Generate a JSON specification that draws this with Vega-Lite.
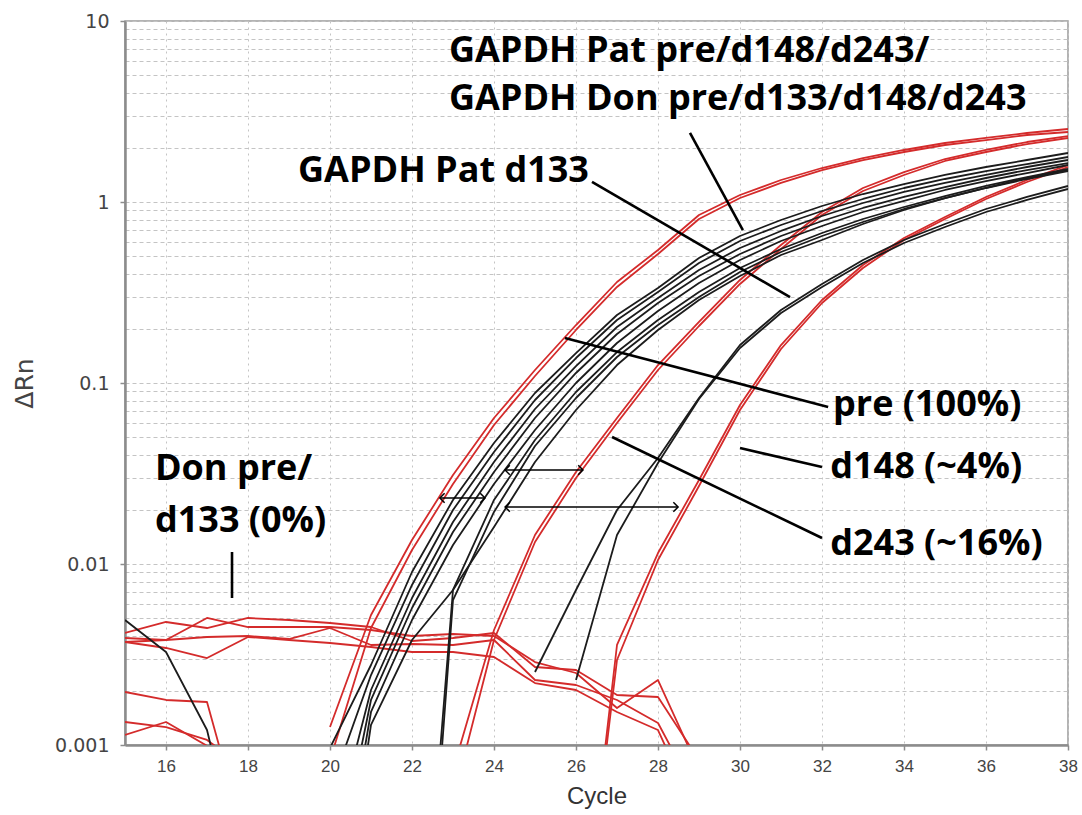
{
  "$schema": "https://vega.github.io/schema/vega-lite/v6.json",
  "width": 943,
  "height": 724,
  "autosize": {"type": "none"},
  "padding": {"left": 125, "top": 21, "right": 14, "bottom": 70},
  "background": "white",
  "config": {
    "view": {"stroke": "#9a9a9a", "strokeWidth": 1.5},
    "axisX": {"labelFont": "Liberation Sans", "labelFontSize": 17, "labelColor": "#444444", "labelPadding": 8, "labelFlush": false, "labelOverlap": false,
      "titleFont": "Liberation Sans", "titleFontSize": 24, "titleFontWeight": "normal", "titleColor": "#333333", "titlePadding": 10,
      "domainColor": "#8c8c8c", "domainWidth": 2.5, "tickColor": "#8c8c8c", "tickSize": 5, "tickWidth": 1.5,
      "gridDash": [2,4], "gridColor": "#c4c4c4", "gridWidth": 1},
    "axisY": {"labelFont": "DejaVu Sans", "labelFontSize": 19, "labelColor": "#444444", "labelPadding": 11, "labelFlush": false, "labelOverlap": false,
      "titleFont": "DejaVu Sans", "titleFontSize": 25, "titleFontWeight": "normal", "titleColor": "#444444", "titlePadding": 17,
      "domainColor": "#8c8c8c", "domainWidth": 2.5, "tickColor": "#8c8c8c", "tickSize": 5, "tickWidth": 1.5,
      "gridDash": [4,3], "gridColor": "#c4c4c4", "gridWidth": 1}
  },
  "datasets": {
    "curves": [
      {"s":"pre1","kind":"allele","c":20,"v":0.001257},{"s":"pre1","kind":"allele","c":21,"v":0.005226},{"s":"pre1","kind":"allele","c":22,"v":0.01357},{"s":"pre1","kind":"allele","c":23,"v":0.03102},{"s":"pre1","kind":"allele","c":24,"v":0.06406},{"s":"pre1","kind":"allele","c":25,"v":0.118},{"s":"pre1","kind":"allele","c":26,"v":0.2091},{"s":"pre1","kind":"allele","c":27,"v":0.3614},{"s":"pre1","kind":"allele","c":28,"v":0.5429},{"s":"pre1","kind":"allele","c":29,"v":0.8478},{"s":"pre1","kind":"allele","c":30,"v":1.093},{"s":"pre1","kind":"allele","c":31,"v":1.323},{"s":"pre1","kind":"allele","c":32,"v":1.541},{"s":"pre1","kind":"allele","c":33,"v":1.75},{"s":"pre1","kind":"allele","c":34,"v":1.938},{"s":"pre1","kind":"allele","c":35,"v":2.118},{"s":"pre1","kind":"allele","c":36,"v":2.258},{"s":"pre1","kind":"allele","c":37,"v":2.406},{"s":"pre1","kind":"allele","c":38,"v":2.532},
      {"s":"pre2","kind":"allele","c":20,"v":0.000826},{"s":"pre2","kind":"allele","c":21,"v":0.00443},{"s":"pre2","kind":"allele","c":22,"v":0.01195},{"s":"pre2","kind":"allele","c":23,"v":0.02767},{"s":"pre2","kind":"allele","c":24,"v":0.05861},{"s":"pre2","kind":"allele","c":25,"v":0.1093},{"s":"pre2","kind":"allele","c":26,"v":0.1963},{"s":"pre2","kind":"allele","c":27,"v":0.3392},{"s":"pre2","kind":"allele","c":28,"v":0.5161},{"s":"pre2","kind":"allele","c":29,"v":0.8055},{"s":"pre2","kind":"allele","c":30,"v":1.052},{"s":"pre2","kind":"allele","c":31,"v":1.274},{"s":"pre2","kind":"allele","c":32,"v":1.502},{"s":"pre2","kind":"allele","c":33,"v":1.706},{"s":"pre2","kind":"allele","c":34,"v":1.889},{"s":"pre2","kind":"allele","c":35,"v":2.065},{"s":"pre2","kind":"allele","c":36,"v":2.2},{"s":"pre2","kind":"allele","c":37,"v":2.345},{"s":"pre2","kind":"allele","c":38,"v":2.436},
      {"s":"d243a","kind":"allele","c":23,"v":0.000728},{"s":"d243a","kind":"allele","c":24,"v":0.004319},{"s":"d243a","kind":"allele","c":25,"v":0.01446},{"s":"d243a","kind":"allele","c":26,"v":0.03223},{"s":"d243a","kind":"allele","c":27,"v":0.06406},{"s":"d243a","kind":"allele","c":28,"v":0.1257},{"s":"d243a","kind":"allele","c":29,"v":0.2173},{"s":"d243a","kind":"allele","c":30,"v":0.3708},{"s":"d243a","kind":"allele","c":31,"v":0.5786},{"s":"d243a","kind":"allele","c":32,"v":0.8806},{"s":"d243a","kind":"allele","c":33,"v":1.195},{"s":"d243a","kind":"allele","c":34,"v":1.464},{"s":"d243a","kind":"allele","c":35,"v":1.728},{"s":"d243a","kind":"allele","c":36,"v":1.938},{"s":"d243a","kind":"allele","c":37,"v":2.145},{"s":"d243a","kind":"allele","c":38,"v":2.315},
      {"s":"d243b","kind":"allele","c":23,"v":0.000497},{"s":"d243b","kind":"allele","c":24,"v":0.003803},{"s":"d243b","kind":"allele","c":25,"v":0.01323},{"s":"d243b","kind":"allele","c":26,"v":0.02986},{"s":"d243b","kind":"allele","c":27,"v":0.06012},{"s":"d243b","kind":"allele","c":28,"v":0.118},{"s":"d243b","kind":"allele","c":29,"v":0.2065},{"s":"d243b","kind":"allele","c":30,"v":0.3524},{"s":"d243b","kind":"allele","c":31,"v":0.5499},{"s":"d243b","kind":"allele","c":32,"v":0.8478},{"s":"d243b","kind":"allele","c":33,"v":1.15},{"s":"d243b","kind":"allele","c":34,"v":1.41},{"s":"d243b","kind":"allele","c":35,"v":1.685},{"s":"d243b","kind":"allele","c":36,"v":1.889},{"s":"d243b","kind":"allele","c":37,"v":2.091},{"s":"d243b","kind":"allele","c":38,"v":2.258},
      {"s":"d148a","kind":"allele","c":26,"v":0.000039},{"s":"d148a","kind":"allele","c":27,"v":0.003569},{"s":"d148a","kind":"allele","c":28,"v":0.0115},{"s":"d148a","kind":"allele","c":29,"v":0.02911},{"s":"d148a","kind":"allele","c":30,"v":0.07558},{"s":"d148a","kind":"allele","c":31,"v":0.1621},{"s":"d148a","kind":"allele","c":32,"v":0.2874},{"s":"d148a","kind":"allele","c":33,"v":0.4486},{"s":"d148a","kind":"allele","c":34,"v":0.6325},{"s":"d148a","kind":"allele","c":35,"v":0.8262},{"s":"d148a","kind":"allele","c":36,"v":1.066},{"s":"d148a","kind":"allele","c":37,"v":1.323},{"s":"d148a","kind":"allele","c":38,"v":1.601},
      {"s":"d148b","kind":"allele","c":26,"v":0.000039},{"s":"d148b","kind":"allele","c":27,"v":0.002948},{"s":"d148b","kind":"allele","c":28,"v":0.01052},{"s":"d148b","kind":"allele","c":29,"v":0.02697},{"s":"d148b","kind":"allele","c":30,"v":0.07093},{"s":"d148b","kind":"allele","c":31,"v":0.1541},{"s":"d148b","kind":"allele","c":32,"v":0.2767},{"s":"d148b","kind":"allele","c":33,"v":0.4319},{"s":"d148b","kind":"allele","c":34,"v":0.6168},{"s":"d148b","kind":"allele","c":35,"v":0.8055},{"s":"d148b","kind":"allele","c":36,"v":1.039},{"s":"d148b","kind":"allele","c":37,"v":1.29},{"s":"d148b","kind":"allele","c":38,"v":1.561},
      {"s":"n1","kind":"allele","c":15,"v":0.004157},{"s":"n1","kind":"allele","c":16,"v":0.004782},{"s":"n1","kind":"allele","c":17,"v":0.00443},{"s":"n1","kind":"allele","c":18,"v":0.005032},{"s":"n1","kind":"allele","c":19,"v":0.004905},{"s":"n1","kind":"allele","c":20,"v":0.004721},{"s":"n1","kind":"allele","c":21,"v":0.004486},{"s":"n1","kind":"allele","c":22,"v":0.003754},{"s":"n1","kind":"allele","c":23,"v":0.003901},{"s":"n1","kind":"allele","c":24,"v":0.004157},{"s":"n1","kind":"allele","c":25,"v":0.002697},{"s":"n1","kind":"allele","c":26,"v":0.002597},{"s":"n1","kind":"allele","c":27,"v":0.001889},{"s":"n1","kind":"allele","c":28,"v":0.001842},{"s":"n1","kind":"allele","c":29,"v":0.000826},
      {"s":"n2","kind":"allele","c":15,"v":0.003901},{"s":"n2","kind":"allele","c":16,"v":0.003803},{"s":"n2","kind":"allele","c":17,"v":0.005032},{"s":"n2","kind":"allele","c":18,"v":0.004486},{"s":"n2","kind":"allele","c":19,"v":0.004486},{"s":"n2","kind":"allele","c":20,"v":0.004486},{"s":"n2","kind":"allele","c":21,"v":0.004319},{"s":"n2","kind":"allele","c":22,"v":0.004002},{"s":"n2","kind":"allele","c":23,"v":0.004105},{"s":"n2","kind":"allele","c":24,"v":0.004002},{"s":"n2","kind":"allele","c":25,"v":0.002874},{"s":"n2","kind":"allele","c":26,"v":0.002499},{"s":"n2","kind":"allele","c":27,"v":0.001601},{"s":"n2","kind":"allele","c":28,"v":0.002286},{"s":"n2","kind":"allele","c":29,"v":0.000728},
      {"s":"n3","kind":"allele","c":15,"v":0.003708},{"s":"n3","kind":"allele","c":16,"v":0.003803},{"s":"n3","kind":"allele","c":17,"v":0.003951},{"s":"n3","kind":"allele","c":18,"v":0.004002},{"s":"n3","kind":"allele","c":19,"v":0.003851},{"s":"n3","kind":"allele","c":20,"v":0.00443},{"s":"n3","kind":"allele","c":21,"v":0.003569},{"s":"n3","kind":"allele","c":22,"v":0.003614},{"s":"n3","kind":"allele","c":23,"v":0.003569},{"s":"n3","kind":"allele","c":24,"v":0.003803},{"s":"n3","kind":"allele","c":25,"v":0.002286},{"s":"n3","kind":"allele","c":26,"v":0.002145},{"s":"n3","kind":"allele","c":27,"v":0.001773},{"s":"n3","kind":"allele","c":28,"v":0.001323},{"s":"n3","kind":"allele","c":29,"v":0.000497},
      {"s":"n4","kind":"allele","c":15,"v":0.003708},{"s":"n4","kind":"allele","c":16,"v":0.003435},{"s":"n4","kind":"allele","c":17,"v":0.003024},{"s":"n4","kind":"allele","c":18,"v":0.003951},{"s":"n4","kind":"allele","c":19,"v":0.003803},{"s":"n4","kind":"allele","c":20,"v":0.00366},{"s":"n4","kind":"allele","c":21,"v":0.003479},{"s":"n4","kind":"allele","c":22,"v":0.003265},{"s":"n4","kind":"allele","c":23,"v":0.003265},{"s":"n4","kind":"allele","c":24,"v":0.003063},{"s":"n4","kind":"allele","c":25,"v":0.0022},{"s":"n4","kind":"allele","c":26,"v":0.002013},{"s":"n4","kind":"allele","c":27,"v":0.001522},{"s":"n4","kind":"allele","c":28,"v":0.00121},{"s":"n4","kind":"allele","c":29,"v":0.000385},
      {"s":"l1","kind":"allele","c":15,"v":0.001963},{"s":"l1","kind":"allele","c":16,"v":0.001773},{"s":"l1","kind":"allele","c":17,"v":0.001728},{"s":"l1","kind":"allele","c":18,"v":0.000263},
      {"s":"l2","kind":"allele","c":15,"v":0.00134},{"s":"l2","kind":"allele","c":16,"v":0.001257},{"s":"l2","kind":"allele","c":17,"v":0.001066},{"s":"l2","kind":"allele","c":18,"v":0.000728},
      {"s":"l3","kind":"allele","c":15,"v":0.001136},{"s":"l3","kind":"allele","c":16,"v":0.00134},{"s":"l3","kind":"allele","c":17,"v":0.00099},{"s":"l3","kind":"allele","c":18,"v":0.000497},
      {"s":"k1","kind":"GAPDH","c":20,"v":0.000963},{"s":"k1","kind":"GAPDH","c":21,"v":0.002767},{"s":"k1","kind":"GAPDH","c":22,"v":0.009032},{"s":"k1","kind":"GAPDH","c":23,"v":0.02258},{"s":"k1","kind":"GAPDH","c":24,"v":0.04661},{"s":"k1","kind":"GAPDH","c":25,"v":0.08806},{"s":"k1","kind":"GAPDH","c":26,"v":0.1464},{"s":"k1","kind":"GAPDH","c":27,"v":0.2375},{"s":"k1","kind":"GAPDH","c":28,"v":0.3349},{"s":"k1","kind":"GAPDH","c":29,"v":0.4905},{"s":"k1","kind":"GAPDH","c":30,"v":0.6489},{"s":"k1","kind":"GAPDH","c":31,"v":0.7955},{"s":"k1","kind":"GAPDH","c":32,"v":0.9504},{"s":"k1","kind":"GAPDH","c":33,"v":1.107},{"s":"k1","kind":"GAPDH","c":34,"v":1.257},{"s":"k1","kind":"GAPDH","c":35,"v":1.41},{"s":"k1","kind":"GAPDH","c":36,"v":1.561},{"s":"k1","kind":"GAPDH","c":37,"v":1.706},{"s":"k1","kind":"GAPDH","c":38,"v":1.865},
      {"s":"k2","kind":"GAPDH","c":20,"v":0.000564},{"s":"k2","kind":"GAPDH","c":21,"v":0.002436},{"s":"k2","kind":"GAPDH","c":22,"v":0.007656},{"s":"k2","kind":"GAPDH","c":23,"v":0.01987},{"s":"k2","kind":"GAPDH","c":24,"v":0.04157},{"s":"k2","kind":"GAPDH","c":25,"v":0.08055},{"s":"k2","kind":"GAPDH","c":26,"v":0.1374},{"s":"k2","kind":"GAPDH","c":27,"v":0.2229},{"s":"k2","kind":"GAPDH","c":28,"v":0.3183},{"s":"k2","kind":"GAPDH","c":29,"v":0.4603},{"s":"k2","kind":"GAPDH","c":30,"v":0.6089},{"s":"k2","kind":"GAPDH","c":31,"v":0.7463},{"s":"k2","kind":"GAPDH","c":32,"v":0.8918},{"s":"k2","kind":"GAPDH","c":33,"v":1.039},{"s":"k2","kind":"GAPDH","c":34,"v":1.195},{"s":"k2","kind":"GAPDH","c":35,"v":1.34},{"s":"k2","kind":"GAPDH","c":36,"v":1.483},{"s":"k2","kind":"GAPDH","c":37,"v":1.621},{"s":"k2","kind":"GAPDH","c":38,"v":1.773},
      {"s":"k3","kind":"GAPDH","c":20,"v":0.000263},{"s":"k3","kind":"GAPDH","c":21,"v":0.002013},{"s":"k3","kind":"GAPDH","c":22,"v":0.006489},{"s":"k3","kind":"GAPDH","c":23,"v":0.01706},{"s":"k3","kind":"GAPDH","c":24,"v":0.0366},{"s":"k3","kind":"GAPDH","c":25,"v":0.07184},{"s":"k3","kind":"GAPDH","c":26,"v":0.1241},{"s":"k3","kind":"GAPDH","c":27,"v":0.2039},{"s":"k3","kind":"GAPDH","c":28,"v":0.2948},{"s":"k3","kind":"GAPDH","c":29,"v":0.421},{"s":"k3","kind":"GAPDH","c":30,"v":0.557},{"s":"k3","kind":"GAPDH","c":31,"v":0.6918},{"s":"k3","kind":"GAPDH","c":32,"v":0.8369},{"s":"k3","kind":"GAPDH","c":33,"v":0.9874},{"s":"k3","kind":"GAPDH","c":34,"v":1.136},{"s":"k3","kind":"GAPDH","c":35,"v":1.274},{"s":"k3","kind":"GAPDH","c":36,"v":1.41},{"s":"k3","kind":"GAPDH","c":37,"v":1.561},{"s":"k3","kind":"GAPDH","c":38,"v":1.706},
      {"s":"k4","kind":"GAPDH","c":20,"v":0.000139},{"s":"k4","kind":"GAPDH","c":21,"v":0.001773},{"s":"k4","kind":"GAPDH","c":22,"v":0.005714},{"s":"k4","kind":"GAPDH","c":23,"v":0.01502},{"s":"k4","kind":"GAPDH","c":24,"v":0.03223},{"s":"k4","kind":"GAPDH","c":25,"v":0.06406},{"s":"k4","kind":"GAPDH","c":26,"v":0.1136},{"s":"k4","kind":"GAPDH","c":27,"v":0.1865},{"s":"k4","kind":"GAPDH","c":28,"v":0.2767},{"s":"k4","kind":"GAPDH","c":29,"v":0.3901},{"s":"k4","kind":"GAPDH","c":30,"v":0.5161},{"s":"k4","kind":"GAPDH","c":31,"v":0.6489},{"s":"k4","kind":"GAPDH","c":32,"v":0.7852},{"s":"k4","kind":"GAPDH","c":33,"v":0.9266},{"s":"k4","kind":"GAPDH","c":34,"v":1.066},{"s":"k4","kind":"GAPDH","c":35,"v":1.21},{"s":"k4","kind":"GAPDH","c":36,"v":1.357},{"s":"k4","kind":"GAPDH","c":37,"v":1.502},{"s":"k4","kind":"GAPDH","c":38,"v":1.642},
      {"s":"k5","kind":"GAPDH","c":20,"v":0.0000737},{"s":"k5","kind":"GAPDH","c":21,"v":0.001522},{"s":"k5","kind":"GAPDH","c":22,"v":0.004905},{"s":"k5","kind":"GAPDH","c":23,"v":0.01274},{"s":"k5","kind":"GAPDH","c":24,"v":0.02767},{"s":"k5","kind":"GAPDH","c":25,"v":0.05499},{"s":"k5","kind":"GAPDH","c":26,"v":0.1},{"s":"k5","kind":"GAPDH","c":27,"v":0.1663},{"s":"k5","kind":"GAPDH","c":28,"v":0.2499},{"s":"k5","kind":"GAPDH","c":29,"v":0.3569},{"s":"k5","kind":"GAPDH","c":30,"v":0.4782},{"s":"k5","kind":"GAPDH","c":31,"v":0.6089},{"s":"k5","kind":"GAPDH","c":32,"v":0.7369},{"s":"k5","kind":"GAPDH","c":33,"v":0.8806},{"s":"k5","kind":"GAPDH","c":34,"v":1.013},{"s":"k5","kind":"GAPDH","c":35,"v":1.165},{"s":"k5","kind":"GAPDH","c":36,"v":1.306},{"s":"k5","kind":"GAPDH","c":37,"v":1.446},{"s":"k5","kind":"GAPDH","c":38,"v":1.601},
      {"s":"k6","kind":"GAPDH","c":20,"v":0.000039},{"s":"k6","kind":"GAPDH","c":21,"v":0.00129},{"s":"k6","kind":"GAPDH","c":22,"v":0.003803},{"s":"k6","kind":"GAPDH","c":23,"v":0.007184},{"s":"k6","kind":"GAPDH","c":24,"v":0.01601},{"s":"k6","kind":"GAPDH","c":25,"v":0.0366},{"s":"k6","kind":"GAPDH","c":26,"v":0.07093},{"s":"k6","kind":"GAPDH","c":27,"v":0.1257},{"s":"k6","kind":"GAPDH","c":28,"v":0.1963},{"s":"k6","kind":"GAPDH","c":29,"v":0.2874},{"s":"k6","kind":"GAPDH","c":30,"v":0.3901},{"s":"k6","kind":"GAPDH","c":31,"v":0.5095},{"s":"k6","kind":"GAPDH","c":32,"v":0.6168},{"s":"k6","kind":"GAPDH","c":33,"v":0.7558},{"s":"k6","kind":"GAPDH","c":34,"v":0.9032},{"s":"k6","kind":"GAPDH","c":35,"v":1.052},{"s":"k6","kind":"GAPDH","c":36,"v":1.195},{"s":"k6","kind":"GAPDH","c":37,"v":1.357},{"s":"k6","kind":"GAPDH","c":38,"v":1.502},
      {"s":"k7","kind":"GAPDH","c":22,"v":0.0000109},{"s":"k7","kind":"GAPDH","c":23,"v":0.007184},{"s":"k7","kind":"GAPDH","c":24,"v":0.02258},{"s":"k7","kind":"GAPDH","c":25,"v":0.04843},{"s":"k7","kind":"GAPDH","c":26,"v":0.08918},{"s":"k7","kind":"GAPDH","c":27,"v":0.1483},{"s":"k7","kind":"GAPDH","c":28,"v":0.2229},{"s":"k7","kind":"GAPDH","c":29,"v":0.3183},{"s":"k7","kind":"GAPDH","c":30,"v":0.4319},{"s":"k7","kind":"GAPDH","c":31,"v":0.5499},{"s":"k7","kind":"GAPDH","c":32,"v":0.6742},{"s":"k7","kind":"GAPDH","c":33,"v":0.8055},{"s":"k7","kind":"GAPDH","c":34,"v":0.9384},{"s":"k7","kind":"GAPDH","c":35,"v":1.079},{"s":"k7","kind":"GAPDH","c":36,"v":1.226},{"s":"k7","kind":"GAPDH","c":37,"v":1.374},{"s":"k7","kind":"GAPDH","c":38,"v":1.522},
      {"s":"k8","kind":"GAPDH","c":22,"v":0.00000579},{"s":"k8","kind":"GAPDH","c":23,"v":0.006325},{"s":"k8","kind":"GAPDH","c":24,"v":0.01938},{"s":"k8","kind":"GAPDH","c":25,"v":0.04486},{"s":"k8","kind":"GAPDH","c":26,"v":0.08262},{"s":"k8","kind":"GAPDH","c":27,"v":0.1392},{"s":"k8","kind":"GAPDH","c":28,"v":0.2091},{"s":"k8","kind":"GAPDH","c":29,"v":0.2986},{"s":"k8","kind":"GAPDH","c":30,"v":0.4105},{"s":"k8","kind":"GAPDH","c":31,"v":0.5294},{"s":"k8","kind":"GAPDH","c":32,"v":0.6489},{"s":"k8","kind":"GAPDH","c":33,"v":0.7752},{"s":"k8","kind":"GAPDH","c":34,"v":0.9149},{"s":"k8","kind":"GAPDH","c":35,"v":1.052},{"s":"k8","kind":"GAPDH","c":36,"v":1.195},{"s":"k8","kind":"GAPDH","c":37,"v":1.34},{"s":"k8","kind":"GAPDH","c":38,"v":1.483},
      {"s":"d1","kind":"GAPDH","c":25,"v":0.002532},{"s":"d1","kind":"GAPDH","c":26,"v":0.007184},{"s":"d1","kind":"GAPDH","c":27,"v":0.01987},{"s":"d1","kind":"GAPDH","c":28,"v":0.03851},{"s":"d1","kind":"GAPDH","c":29,"v":0.08262},{"s":"d1","kind":"GAPDH","c":30,"v":0.1621},{"s":"d1","kind":"GAPDH","c":31,"v":0.2532},{"s":"d1","kind":"GAPDH","c":32,"v":0.3524},{"s":"d1","kind":"GAPDH","c":33,"v":0.4782},{"s":"d1","kind":"GAPDH","c":34,"v":0.6168},{"s":"d1","kind":"GAPDH","c":35,"v":0.7558},{"s":"d1","kind":"GAPDH","c":36,"v":0.9149},{"s":"d1","kind":"GAPDH","c":37,"v":1.066},{"s":"d1","kind":"GAPDH","c":38,"v":1.226},
      {"s":"d2","kind":"GAPDH","c":26,"v":0.002286},{"s":"d2","kind":"GAPDH","c":27,"v":0.01446},{"s":"d2","kind":"GAPDH","c":28,"v":0.03614},{"s":"d2","kind":"GAPDH","c":29,"v":0.08158},{"s":"d2","kind":"GAPDH","c":30,"v":0.1561},{"s":"d2","kind":"GAPDH","c":31,"v":0.2436},{"s":"d2","kind":"GAPDH","c":32,"v":0.3392},{"s":"d2","kind":"GAPDH","c":33,"v":0.4603},{"s":"d2","kind":"GAPDH","c":34,"v":0.5936},{"s":"d2","kind":"GAPDH","c":35,"v":0.7277},{"s":"d2","kind":"GAPDH","c":36,"v":0.8806},{"s":"d2","kind":"GAPDH","c":37,"v":1.026},{"s":"d2","kind":"GAPDH","c":38,"v":1.18},
      {"s":"bl","kind":"GAPDH","c":15,"v":0.004905},{"s":"bl","kind":"GAPDH","c":16,"v":0.003265},{"s":"bl","kind":"GAPDH","c":17,"v":0.00121},{"s":"bl","kind":"GAPDH","c":18,"v":0.000139}
    ],
    "leaders": [
      {"x1":28.78,"y1":2.406,"x2":30.07,"y2":0.7003},
      {"x1":26.39,"y1":1.29,"x2":31.22,"y2":0.2986},
      {"x1":25.73,"y1":0.1773,"x2":32.15,"y2":0.07368},
      {"x1":30.0,"y1":0.04375,"x2":32.0,"y2":0.03435},
      {"x1":26.88,"y1":0.05032,"x2":32.0,"y2":0.01392},
      {"x1":17.61,"y1":0.01165,"x2":17.61,"y2":0.006489}
    ],
    "arrows": [
      {"x1":22.68,"x2":23.78,"y":0.02315},
      {"x1":24.27,"x2":26.17,"y":0.03306},
      {"x1":24.27,"x2":28.49,"y":0.02065}
    ],
    "labels": [
      {"label":"GAPDH Pat pre/d148/d243/","c":22.9,"v":5.936},
      {"label":"GAPDH Don pre/d133/d148/d243","c":22.9,"v":3.223},
      {"label":"GAPDH Pat d133","c":19.22,"v":1.29},
      {"label":"pre (100%)","c":32.27,"v":0.06572},
      {"label":"d148 (~4%)","c":32.2,"v":0.02986},
      {"label":"d243 (~16%)","c":32.2,"v":0.01121},
      {"label":"Don pre/","c":15.73,"v":0.02911},
      {"label":"d133 (0%)","c":15.73,"v":0.01502}
    ]
  },
  "layer": [
    {
      "data": {"name": "curves"},
      "mark": {"type": "line", "clip": true, "strokeWidth": 1.8, "strokeJoin": "round"},
      "encoding": {
        "x": {"field": "c", "type": "quantitative", "title": "Cycle",
          "scale": {"domain": [15, 38], "nice": false, "zero": false},
          "axis": {"values": [16,18,20,22,24,26,28,30,32,34,36,38], "format": "d", "grid": true,
            "labelFont": "Liberation Sans", "labelFontSize": 17, "titleFont": "Liberation Sans", "titleFontSize": 24}},
        "y": {"field": "v", "type": "quantitative", "title": "ΔRn",
          "scale": {"type": "log", "domain": [0.001, 10], "nice": false},
          "axis": {"values": [0.001,0.002,0.003,0.004,0.005,0.006,0.007,0.008,0.009,0.01,0.02,0.03,0.04,0.05,0.06,0.07,0.08,0.09,0.1,0.2,0.3,0.4,0.5,0.6,0.7,0.8,0.9,1,2,3,4,5,6,7,8,9,10],
            "labelExpr": "(datum.value === 0.001 || datum.value === 0.01 || datum.value === 0.1 || datum.value === 1 || datum.value === 10) ? format(datum.value, '~g') : ''",
            "labelFontSize": 19, "labelFont": "DejaVu Sans", "labelPadding": 11, "titleFont": "DejaVu Sans", "titleFontSize": 25, "titlePadding": 17,
            "grid": true,
            "tickOpacity": {"condition": {"test": "datum.value === 0.001 || datum.value === 0.01 || datum.value === 0.1 || datum.value === 1 || datum.value === 10", "value": 1}, "value": 0}}},
        "color": {"field": "kind", "type": "nominal", "scale": {"domain": ["allele", "GAPDH"], "range": ["#d42b2b", "#1c1c1c"]}, "legend": null},
        "detail": {"field": "s"}
      }
    },
    {
      "data": {"name": "leaders"},
      "mark": {"type": "rule", "strokeWidth": 2.6, "color": "#000000"},
      "encoding": {
        "x": {"field": "x1", "type": "quantitative", "title": "Cycle"},
        "y": {"field": "y1", "type": "quantitative", "title": "ΔRn"},
        "x2": {"field": "x2"},
        "y2": {"field": "y2"}
      }
    },
    {
      "data": {"name": "arrows"},
      "mark": {"type": "rule", "strokeWidth": 1.5, "color": "#000000"},
      "encoding": {
        "x": {"field": "x1", "type": "quantitative", "title": "Cycle"},
        "x2": {"field": "x2"},
        "y": {"field": "y", "type": "quantitative", "title": "ΔRn"}
      }
    },
    {
      "data": {"name": "arrows"},
      "mark": {"type": "point", "shape": "M1,-1L0,0L1,1", "filled": false, "stroke": "#000000", "strokeWidth": 1.5, "size": 90, "opacity": 1},
      "encoding": {
        "x": {"field": "x1", "type": "quantitative", "title": "Cycle"},
        "y": {"field": "y", "type": "quantitative", "title": "ΔRn"}
      }
    },
    {
      "data": {"name": "arrows"},
      "mark": {"type": "point", "shape": "M-1,-1L0,0L-1,1", "filled": false, "stroke": "#000000", "strokeWidth": 1.5, "size": 90, "opacity": 1},
      "encoding": {
        "x": {"field": "x2", "type": "quantitative", "title": "Cycle"},
        "y": {"field": "y", "type": "quantitative", "title": "ΔRn"}
      }
    },
    {
      "data": {"name": "labels"},
      "mark": {"type": "text", "font": "Open Sans", "fontWeight": "bold", "fontSize": 36, "align": "left", "baseline": "alphabetic", "color": "#000000"},
      "encoding": {
        "x": {"field": "c", "type": "quantitative", "title": "Cycle"},
        "y": {"field": "v", "type": "quantitative", "title": "ΔRn"},
        "text": {"field": "label"}
      }
    }
  ]
}
